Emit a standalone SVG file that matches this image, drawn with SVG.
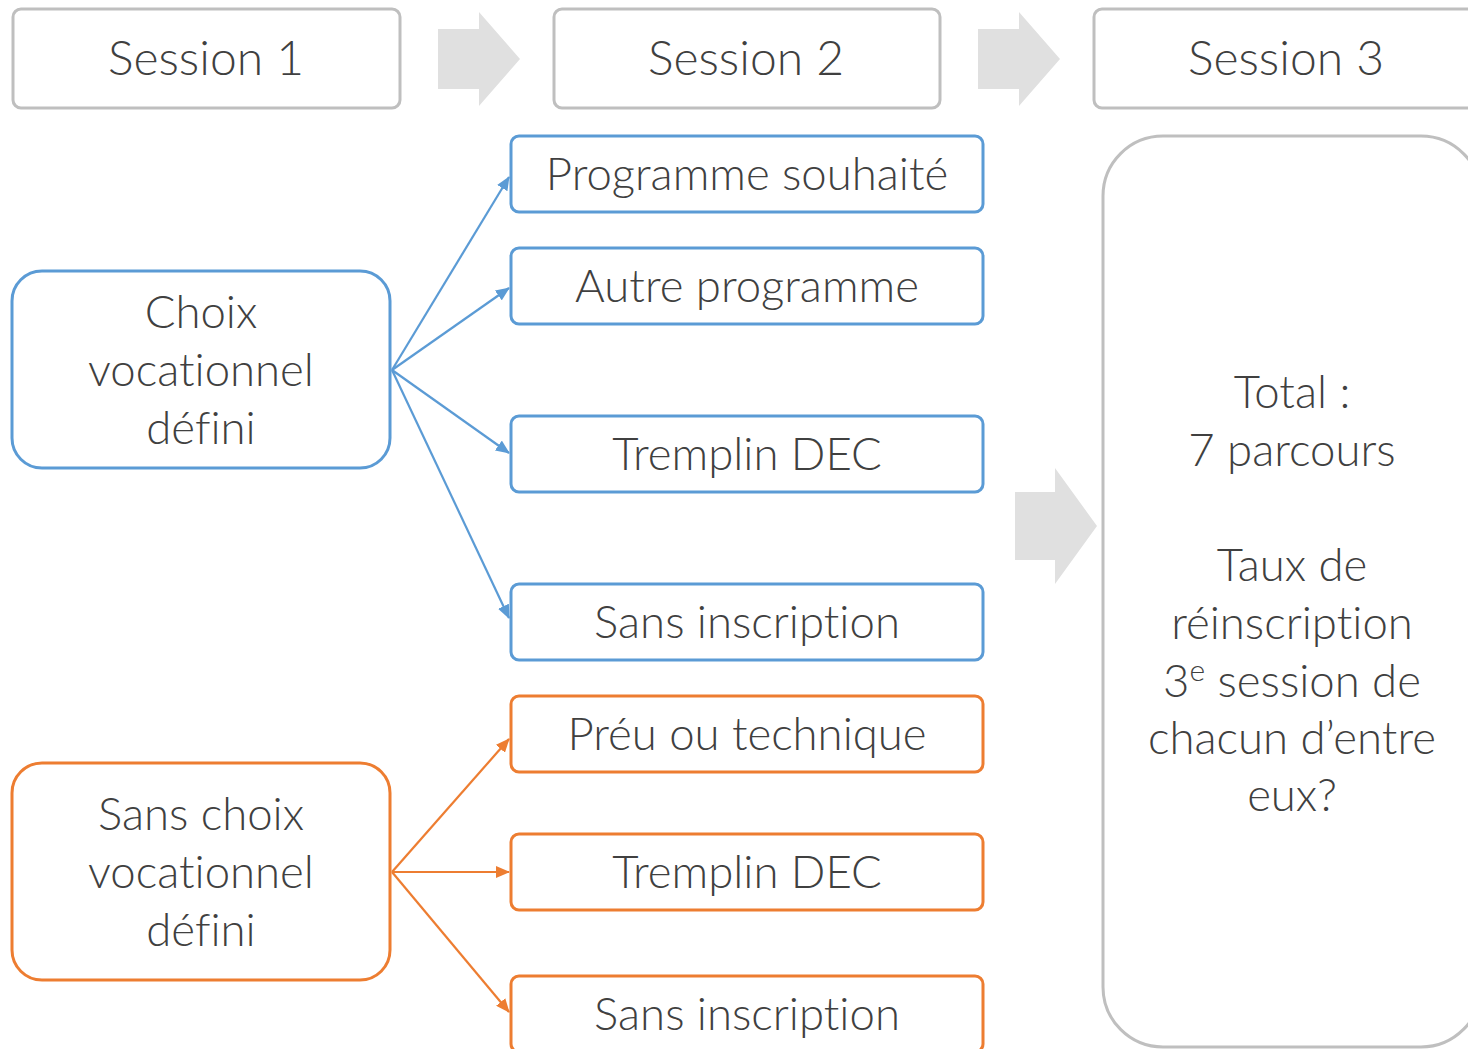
<svg xmlns="http://www.w3.org/2000/svg" width="1468" height="1049" viewBox="0 0 1468 1049">
<defs>
<style>
text{font-family:Lato,"Open Sans","Liberation Sans",sans-serif;font-weight:300;font-size:45.5px;fill:#404040;text-anchor:middle;font-variant-ligatures:none}
.st{font-size:48px}
.sess{fill:#fff;stroke:#BFBFBF;stroke-width:3}
.blue{fill:#fff;stroke:#5B9BD5;stroke-width:3}
.orange{fill:#fff;stroke:#ED7D31;stroke-width:3}
.gray{fill:#E0E0E0}
.cb{stroke:#5B9BD5;stroke-width:2.2;fill:none}
.co{stroke:#ED7D31;stroke-width:2.2;fill:none}
</style>
<marker id="ab" viewBox="0 0 14 12" refX="13" refY="6" markerWidth="14" markerHeight="12" markerUnits="userSpaceOnUse" orient="auto"><path d="M0,0 L14,6 L0,12 z" fill="#5B9BD5"/></marker>
<marker id="ao" viewBox="0 0 14 12" refX="13" refY="6" markerWidth="14" markerHeight="12" markerUnits="userSpaceOnUse" orient="auto"><path d="M0,0 L14,6 L0,12 z" fill="#ED7D31"/></marker>
</defs>
<rect width="1468" height="1049" fill="#fff"/>
<g id="big-arrows">
<polygon class="gray" points="438,29 479,29 479,12 520,59 479,106 479,89 438,89"/>
<polygon class="gray" points="978,29 1019,29 1019,12 1060,59 1019,106 1019,89 978,89"/>
<polygon class="gray" points="1015,492 1055,492 1055,468 1097,526 1055,584 1055,560 1015,560"/>
</g>
<g id="session1"><rect class="sess" x="13" y="9" width="387" height="99" rx="8"/><text class="st" x="206" y="75">Session 1</text></g>
<g id="session2"><rect class="sess" x="554" y="9" width="386" height="99" rx="8"/><text class="st" x="746" y="75">Session 2</text></g>
<g id="session3"><rect class="sess" x="1094" y="9" width="386" height="99" rx="8"/><text class="st" x="1286" y="75">Session 3</text></g>
<g id="choix"><rect class="blue" x="12" y="271" width="378" height="197" rx="30"/><text x="201" y="328">Choix</text><text x="201" y="386">vocationnel</text><text x="201" y="444">défini</text></g>
<g id="sans-choix"><rect class="orange" x="12" y="763" width="378" height="217" rx="30"/><text x="201" y="830">Sans choix</text><text x="201" y="888">vocationnel</text><text x="201" y="946">défini</text></g>
<g id="b1"><rect class="blue" x="511" y="136" width="472" height="76" rx="8"/><text x="747" y="190">Programme souhaité</text></g>
<g id="b2"><rect class="blue" x="511" y="248" width="472" height="76" rx="8"/><text x="747" y="302">Autre programme</text></g>
<g id="b3"><rect class="blue" x="511" y="416" width="472" height="76" rx="8"/><text x="747" y="470">Tremplin DEC</text></g>
<g id="b4"><rect class="blue" x="511" y="584" width="472" height="76" rx="8"/><text x="747" y="638">Sans inscription</text></g>
<g id="o1"><rect class="orange" x="511" y="696" width="472" height="76" rx="8"/><text x="747" y="750">Préu ou technique</text></g>
<g id="o2"><rect class="orange" x="511" y="834" width="472" height="76" rx="8"/><text x="747" y="888">Tremplin DEC</text></g>
<g id="o3"><rect class="orange" x="511" y="976" width="472" height="76" rx="8"/><text x="747" y="1030">Sans inscription</text></g>
<g id="total"><rect class="sess" x="1103" y="136" width="378" height="911" rx="60"/>
<text x="1292" y="408">Total :</text>
<text x="1292" y="466">7 parcours</text>
<text x="1292" y="581">Taux de</text>
<text x="1292" y="639">réinscription</text>
<text x="1292" y="697">3<tspan font-size="30" dy="-16">e</tspan><tspan dy="16"> session de</tspan></text>
<text x="1292" y="754">chacun d’entre</text>
<text x="1292" y="811">eux?</text>
</g>
<g id="connectors">
<line class="cb" x1="392" y1="370" x2="509" y2="177" marker-end="url(#ab)"/>
<line class="cb" x1="392" y1="370" x2="509" y2="288" marker-end="url(#ab)"/>
<line class="cb" x1="392" y1="370" x2="509" y2="453" marker-end="url(#ab)"/>
<line class="cb" x1="392" y1="370" x2="509" y2="618" marker-end="url(#ab)"/>
<line class="co" x1="392" y1="872" x2="509" y2="739" marker-end="url(#ao)"/>
<line class="co" x1="392" y1="872" x2="509" y2="872" marker-end="url(#ao)"/>
<line class="co" x1="392" y1="872" x2="509" y2="1012" marker-end="url(#ao)"/>
</g>
</svg>
